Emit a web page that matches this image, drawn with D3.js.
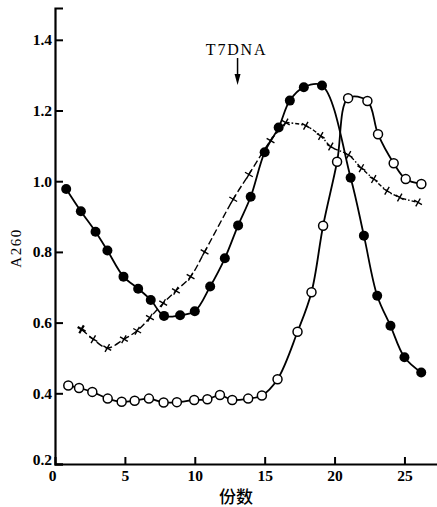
<!DOCTYPE html>
<html><head><meta charset="utf-8">
<script src="https://cdn.jsdelivr.net/npm/d3@7/dist/d3.min.js"></script>
<style>body{margin:0;background:#fff}svg{display:block}</style>
</head><body>
<svg id="c" width="437" height="507"></svg>
<script>
// Filled circles series
const fracFilled = [0.8,1.85,2.9,3.75,4.9,5.95,6.85,7.8,8.95,10,11.1,12.15,13.1,14,15,16,16.8,17.8,19.1,21.15,22.1,23.05,24,25,26.2];
const a260Filled = [0.978,0.915,0.857,0.804,0.730,0.696,0.664,0.619,0.621,0.632,0.702,0.782,0.875,0.956,1.082,1.152,1.228,1.266,1.271,1.01,0.846,0.676,0.591,0.502,0.459];
// Open circles series
const fracOpen = [0.95,1.72,2.67,3.77,4.77,5.7,6.72,7.77,8.72,9.96,10.9,11.8,12.68,13.82,14.8,15.92,17.35,18.35,19.18,20.18,20.97,22.35,23.11,24.23,25.09,26.21];
const a260Open = [0.422,0.415,0.404,0.385,0.376,0.379,0.385,0.374,0.375,0.381,0.383,0.395,0.381,0.385,0.394,0.44,0.574,0.686,0.874,1.055,1.235,1.227,1.133,1.051,1.006,0.992];
// Crosses series
const fracCross = [1.9,2.74,3.74,4.93,5.88,6.79,7.74,8.65,9.7,10.7,12.75,13.87,15.42,16.51,17.94,19.01,19.73,21.0,21.92,22.8,23.75,24.66,25.97];
const a260Cross = [0.581,0.553,0.528,0.553,0.577,0.614,0.655,0.69,0.73,0.80,0.949,1.019,1.115,1.166,1.157,1.128,1.098,1.074,1.037,1.006,0.973,0.954,0.94];
// Ticks
const xTicks = [0,5,10,15,20,25];
const yTicks = [0.2,0.4,0.6,0.8,1.0,1.2,1.4];
const arrowX = 13.06;

const svg = d3.select("#c");
const x = d3.scaleLinear().domain([0, 27.4]).range([55, 438]);
const y = d3.scaleLinear().domain([0.2, 1.49]).range([464, 8]);

const serif = "'Liberation Serif','DejaVu Serif',serif";

// axes
const gx = svg.append("g").attr("transform", `translate(0,${y(0.2)})`)
  .call(d3.axisBottom(x).tickValues(xTicks).tickSize(-7).tickPadding(6).tickFormat(d3.format("d")));
const gy = svg.append("g").attr("transform", `translate(${x(0)},0)`)
  .call(d3.axisLeft(y).tickValues(yTicks).tickSize(-8).tickPadding(3).tickFormat(d3.format(".1f")));
[gx, gy].forEach(g => {
  g.select(".domain").attr("stroke", "#000").attr("stroke-width", 2.2);
  g.selectAll(".tick line").attr("stroke", "#000").attr("stroke-width", 2);
  g.selectAll("text").attr("font-family", serif).attr("font-weight", "bold")
    .attr("font-size", 15.5).attr("fill", "#000");
});
gx.selectAll(".tick").filter(d => d === 0).select("line").remove();
gx.selectAll(".tick").filter(d => d === 0).select("text").attr("dx", -3);
gy.selectAll(".tick").filter(d => d === 0.2).select("text").attr("dy", "0.05em");

// axis titles
svg.append("text").attr("transform", `translate(21,248) rotate(-90)`)
  .attr("text-anchor", "middle").attr("font-family", serif).attr("font-size", 15)
  .attr("letter-spacing", 1.5).text("A260");
svg.append("text").attr("x", 236).attr("y", 503).attr("text-anchor", "middle")
  .attr("font-family", "'Noto Sans CJK SC',sans-serif").attr("font-weight", 500)
  .attr("font-size", 17).text("份数");

// annotation
svg.append("text").attr("x", x(arrowX) - 1).attr("y", 55).attr("text-anchor", "middle")
  .attr("font-family", serif).attr("font-size", 16).attr("letter-spacing", 1.8).text("T7DNA");
svg.append("line").attr("x1", x(arrowX)).attr("x2", x(arrowX)).attr("y1", 58).attr("y2", 78)
  .attr("stroke", "#000").attr("stroke-width", 1.5);
svg.append("path").attr("d", `M${x(arrowX)-3},74 L${x(arrowX)+3},74 L${x(arrowX)},85 Z`).attr("fill", "#000");

const line = d3.line().x(d => x(d[0])).y(d => y(d[1])).curve(d3.curveCatmullRom.alpha(0.5));
const filled = fracFilled.map((f, i) => [f, a260Filled[i]]);
const open = fracOpen.map((f, i) => [f, a260Open[i]]);
const cross = fracCross.map((f, i) => [f, a260Cross[i]]);

// cross line: dashed left part, dash-dot right part
const crossLeft = cross.filter(d => d[0] <= 16.6);
const crossRight = cross.filter(d => d[0] >= 15.4);
svg.append("path").attr("d", line(crossLeft)).attr("fill", "none").attr("stroke", "#000")
  .attr("stroke-width", 1.4).attr("stroke-dasharray", "7,3");
svg.append("path").attr("d", line(crossRight.slice(1))).attr("fill", "none").attr("stroke", "#000")
  .attr("stroke-width", 1.4).attr("stroke-dasharray", "4,2,1.5,2");

svg.append("path").attr("d", line(filled)).attr("fill", "none").attr("stroke", "#000").attr("stroke-width", 1.8);
svg.append("path").attr("d", line(open)).attr("fill", "none").attr("stroke", "#000").attr("stroke-width", 1.8);

// markers
svg.selectAll(".cr").data(cross).join("path").attr("class", "cr")
  .attr("transform", d => `translate(${x(d[0])},${y(d[1])}) rotate(30)`)
  .attr("d", "M-4.5,0 L4.5,0 M0,-4.5 L0,4.5")
  .attr("stroke", "#000").attr("stroke-width", (d, i) => i === 0 ? 2.2 : 1.4).attr("fill", "none");
svg.selectAll(".fc").data(filled).join("circle").attr("class", "fc")
  .attr("cx", d => x(d[0])).attr("cy", d => y(d[1])).attr("r", 5).attr("fill", "#000");
svg.selectAll(".oc").data(open).join("circle").attr("class", "oc")
  .attr("cx", d => x(d[0])).attr("cy", d => y(d[1])).attr("r", 4.5)
  .attr("fill", "#fff").attr("stroke", "#000").attr("stroke-width", 1.5);
</script>
</body></html>
